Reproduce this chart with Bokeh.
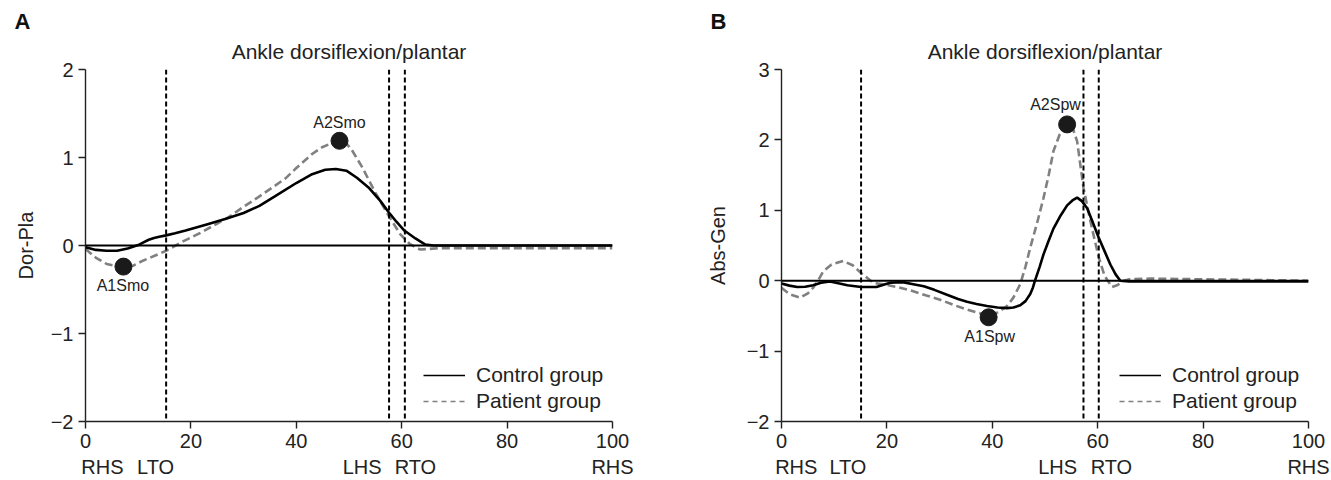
import numpy as np
from bokeh.plotting import figure
from bokeh.models import (Range1d, FixedTicker, LinearAxis, Span, Legend, LegendItem, Title)
from bokeh.layouts import row
from bokeh.embed import file_html
from bokeh.resources import INLINE

FONT = "Liberation Sans"

# ---------------- data ----------------
title_text = "Ankle dorsiflexion/plantar"
x_ticks = [0, 20, 40, 60, 80, 100]
phase_labels = ["RHS", "LTO", "LHS", "RTO", "RHS"]
legend_labels = ["Control group", "Patient group"]

# Panel A
a_yticks = [-2, -1, 0, 1, 2]
a_events = [15.3, 57.6, 60.6]
a_phase_x = [3.2, 13.3, 52.5, 62.6, 100]
a_ctrl_x = [0, 2, 4, 6, 8, 9, 10, 11, 12, 13, 14, 15.3, 17, 19, 23, 26.5, 30, 33, 36, 40,
            43, 45.5, 47.5, 49.5, 51.5, 53.7, 55.9, 57.5, 59, 60.5, 62.6, 64.5, 66, 70, 80,
            90, 100]
a_ctrl_y = [-0.02, -0.05, -0.06, -0.06, -0.035, -0.015, 0.005, 0.035, 0.065, 0.085, 0.10,
            0.115, 0.14, 0.17, 0.24, 0.30, 0.37, 0.45, 0.56, 0.71, 0.81, 0.86, 0.87, 0.85,
            0.77, 0.66, 0.51, 0.38, 0.27, 0.17, 0.08, 0.01, 0.0, 0.0, 0.0, 0.0, 0.0]
a_pat_x = [0, 2, 4, 7, 9, 11, 13, 15.3, 18.3, 22, 25, 27.1, 30, 32.8, 35, 37.9, 40, 43, 45,
           47, 48.2, 49.5, 50.6, 52.5, 55, 57.5, 59.7, 61.5, 62.6, 63.5, 65, 67, 70, 80, 90, 100]
a_pat_y = [-0.04, -0.14, -0.21, -0.25, -0.23, -0.17, -0.12, -0.06, 0.04, 0.15, 0.25, 0.32,
           0.44, 0.55, 0.64, 0.76, 0.88, 1.04, 1.12, 1.17, 1.19, 1.16, 1.08, 0.89, 0.60, 0.34,
           0.13, 0.02, -0.02, -0.045, -0.04, -0.03, -0.03, -0.03, -0.03, -0.03]
a_mk_x = [7.2, 48.2]
a_mk_y = [-0.24, 1.19]
a_mk_text = ["A1Smo", "A2Smo"]
a_mk_lx = [7.1, 48.2]
a_mk_ly = [-0.46, 1.40]

# Panel B
b_yticks = [-2, -1, 0, 1, 2, 3]
b_events = [15.1, 57.3, 60.2]
b_phase_x = [2.8, 12.6, 52.4, 62.6, 100]
b_ctrl_x = [0, 1.5, 3, 4.5, 6, 7.5, 9.2, 11, 12.5, 15.1, 18, 20.6, 23, 25, 27, 29, 31.4,
            33.5, 35.2, 37, 39, 41, 42.8, 44, 45.3, 46.3, 47.2, 47.7, 48.1, 49, 49.7, 50.6,
            51.6, 53, 54.2, 55.2, 56.1, 57, 58, 59, 60.2, 61.3, 62.4, 63.4, 64.3, 66, 70, 80,
            90, 100]
b_ctrl_y = [-0.04, -0.07, -0.09, -0.085, -0.065, -0.03, -0.01, -0.04, -0.065, -0.09, -0.09,
            -0.03, -0.02, -0.05, -0.08, -0.13, -0.20, -0.26, -0.30, -0.33, -0.36, -0.38,
            -0.39, -0.38, -0.35, -0.29, -0.19, -0.10, 0.0, 0.2, 0.37, 0.55, 0.74, 0.93, 1.07,
            1.14, 1.18, 1.13, 1.03, 0.84, 0.61, 0.42, 0.23, 0.09, 0.0, -0.01, -0.01, -0.01,
            -0.01, -0.01]
b_pat_x = [0, 1.5, 3.5, 5, 6, 7, 7.9, 9.5, 11.7, 13.5, 15.1, 17.4, 20, 22.5, 25, 27.5, 30.1,
           32.5, 35.2, 37.5, 39.3, 41, 42.8, 44, 45.3, 46.3, 47.2, 48.5, 49.7, 50.7, 51.6,
           52.8, 54.2, 55.2, 56.1, 57.3, 58.1, 58.9, 60.2, 61.3, 62.7, 63.8, 65, 66, 70, 80,
           90, 100]
b_pat_y = [-0.10, -0.19, -0.24, -0.18, -0.10, 0.01, 0.13, 0.23, 0.28, 0.22, 0.11, -0.03,
           -0.06, -0.10, -0.15, -0.21, -0.27, -0.34, -0.41, -0.46, -0.50, -0.45, -0.36,
           -0.24, -0.05, 0.2, 0.47, 0.82, 1.17, 1.5, 1.84, 2.08, 2.22, 2.18, 1.98, 1.32, 1.03,
           0.75, 0.33, 0.07, -0.09, -0.06, 0.0, 0.02, 0.03, 0.02, 0.01, 0.0]
b_mk_x = [39.3, 54.2]
b_mk_y = [-0.52, 2.22]
b_mk_text = ["A1Spw", "A2Spw"]
b_mk_lx = [39.5, 52.0]
b_mk_ly = [-0.79, 2.50]

FRAME_W = 527
FRAME_H = 352
FIG_H = 480
TOP = 69
BOTTOM = FIG_H - TOP - FRAME_H
TXT = "#222222"


def minus(v):
    return ("\u2212" + str(abs(v))) if v < 0 else str(v)


def style_axis(ax):
    ax.axis_line_color = TXT
    ax.axis_line_width = 1.4
    ax.major_tick_line_color = TXT
    ax.major_tick_line_width = 1.4
    ax.major_tick_in = 0
    ax.major_tick_out = 7
    ax.minor_tick_line_color = None
    ax.major_label_text_font = FONT
    ax.major_label_text_font_size = "20px"
    ax.major_label_text_color = TXT


def make_panel(letter, ylabel, yticks, events, phase_x, cx, cy, px, py,
               mkx, mky, mktext, mklx, mkly, width, bleft, ylab_standoff):
    bright = width - bleft - FRAME_W
    p = figure(width=width, height=FIG_H,
               x_range=Range1d(0, 100), y_range=Range1d(yticks[0], yticks[-1]),
               output_backend="svg", toolbar_location=None,
               min_border_left=bleft, min_border_right=bright,
               min_border_top=TOP, min_border_bottom=BOTTOM)
    p.outline_line_color = None
    p.grid.visible = False
    p.background_fill_color = "white"
    p.border_fill_color = "white"

    # panel letter (outer) and chart title (next to the frame)
    p.title.text = letter
    p.title.align = "left"
    p.title.offset = -71
    p.title.standoff = -2
    p.title.text_font = FONT
    p.title.text_font_size = "22px"
    p.title.text_font_style = "bold"
    p.title.text_color = "#111111"
    p.add_layout(Title(text=title_text, align="center", standoff=12,
                       vertical_align="middle",
                       text_font=FONT, text_font_size="21px", text_font_style="normal",
                       text_color=TXT), "above")

    style_axis(p.xaxis[0])
    style_axis(p.yaxis[0])
    p.xaxis.major_label_standoff = 5
    p.yaxis.major_label_standoff = 5
    p.xaxis.ticker = FixedTicker(ticks=x_ticks)
    p.yaxis.ticker = FixedTicker(ticks=yticks)
    p.yaxis.major_label_overrides = {v: minus(v) for v in yticks}
    p.yaxis.axis_label = ylabel
    p.yaxis.axis_label_text_font = FONT
    p.yaxis.axis_label_text_font_size = "20px"
    p.yaxis.axis_label_text_font_style = "normal"
    p.yaxis.axis_label_text_color = TXT
    p.yaxis.axis_label_standoff = ylab_standoff

    # gait-phase labels as a second, tick-less axis below
    ax2 = LinearAxis(ticker=FixedTicker(ticks=phase_x),
                     major_label_overrides={v: t for v, t in zip(phase_x, phase_labels)})
    style_axis(ax2)
    ax2.axis_line_color = None
    ax2.major_tick_line_color = None
    ax2.major_tick_out = 0
    ax2.major_label_standoff = 5
    p.add_layout(ax2, "below")

    # zero line and event lines
    p.add_layout(Span(location=0, dimension="width", line_color="black", line_width=2))
    for e in events:
        p.add_layout(Span(location=e, dimension="height", line_color="black",
                          line_width=2, line_dash="5 3"))

    # curves
    p.line(px, py, line_color="#808080", line_width=2.6, line_dash="8 4")
    p.line(cx, cy, line_color="black", line_width=2.6)

    # markers
    p.scatter(mkx, mky, size=17, fill_color="#1a1a1a", line_color="#1a1a1a")
    p.text(x=mklx, y=mkly, text=mktext, text_align="center", text_baseline="middle",
           text_font_size="16px", text_font={"value": FONT}, text_color=TXT)

    # legend with thin sample lines (proxy renderers without visible data)
    nan = np.array([np.nan])
    lc = p.line(nan, nan, line_color="black", line_width=1.6)
    lp = p.line(nan, nan, line_color="#808080", line_width=1.6, line_dash="5 4")
    legend = Legend(items=[LegendItem(label=legend_labels[0], renderers=[lc]),
                           LegendItem(label=legend_labels[1], renderers=[lp])],
                    location=(338, 8), border_line_color=None, background_fill_alpha=0,
                    padding=0, margin=0, spacing=2, glyph_width=42, glyph_height=22,
                    label_height=22, label_standoff=11, label_text_font=FONT,
                    label_text_font_size="21px", label_text_color=TXT)
    p.add_layout(legend)
    return p


pA = make_panel("A", "Dor-Pla", a_yticks, a_events, a_phase_x, a_ctrl_x, a_ctrl_y,
                a_pat_x, a_pat_y, a_mk_x, a_mk_y, a_mk_text, a_mk_lx, a_mk_ly,
                width=700, bleft=85, ylab_standoff=11)
pB = make_panel("B", "Abs-Gen", b_yticks, b_events, b_phase_x, b_ctrl_x, b_ctrl_y,
                b_pat_x, b_pat_y, b_mk_x, b_mk_y, b_mk_text, b_mk_lx, b_mk_ly,
                width=631, bleft=81, ylab_standoff=15)

layout = row(pA, pB)
open("out.html", "w").write(file_html(layout, INLINE))
